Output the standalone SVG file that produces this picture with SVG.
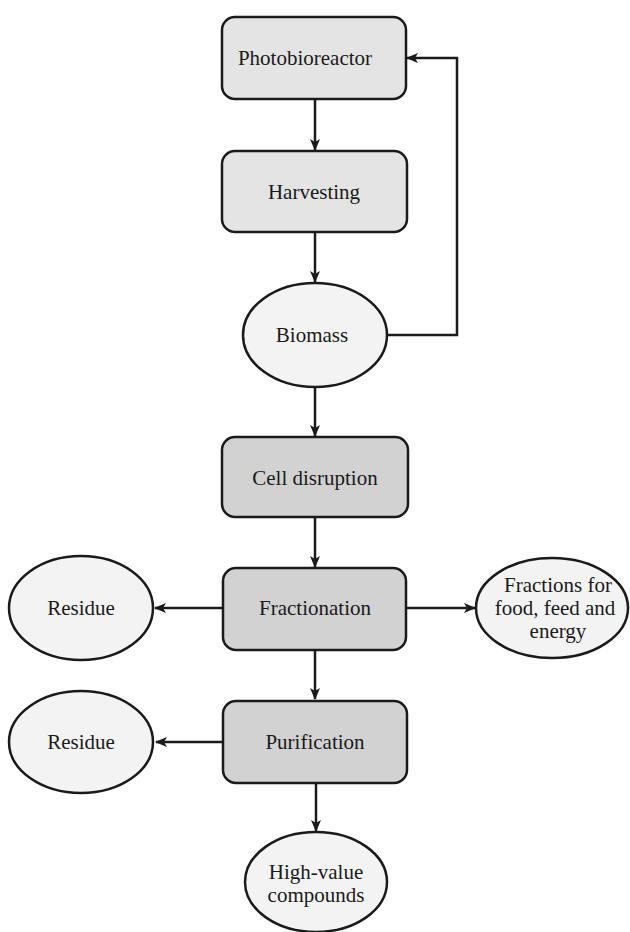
<svg xmlns="http://www.w3.org/2000/svg" width="630" height="932" viewBox="0 0 630 932">
<style>
.box1{fill:#e4e4e4;stroke:#1a1a1a;stroke-width:2.5}
.box2{fill:#d2d2d2;stroke:#1a1a1a;stroke-width:2.5}
.ell{fill:#f3f3f3;stroke:#1a1a1a;stroke-width:2.5}
.t{font-family:'Liberation Serif','DejaVu Serif',serif;font-size:21px;fill:#1a1a1a;text-anchor:middle}
.c{fill:none;stroke:#1a1a1a;stroke-width:2.5}
</style>
<defs>
<marker id="ah" viewBox="0 0 12 10" refX="11" refY="5" markerWidth="12" markerHeight="10" markerUnits="userSpaceOnUse" orient="auto">
<path d="M0,0 L12,5 L0,10 L3,5 z" fill="#1a1a1a"/>
</marker>
</defs>
<g id="connectors">
<path class="c" d="M315,99 L315,150" marker-end="url(#ah)"/>
<path class="c" d="M315,232 L315,282" marker-end="url(#ah)"/>
<path class="c" d="M387,335 L457,335 L457,58 L407,58" marker-end="url(#ah)"/>
<path class="c" d="M315,387 L315,436" marker-end="url(#ah)"/>
<path class="c" d="M315,517 L315,567" marker-end="url(#ah)"/>
<path class="c" d="M222,608 L155,608" marker-end="url(#ah)"/>
<path class="c" d="M406,608 L475,608" marker-end="url(#ah)"/>
<path class="c" d="M315,650 L315,699" marker-end="url(#ah)"/>
<path class="c" d="M222,742 L156,742" marker-end="url(#ah)"/>
<path class="c" d="M316,783 L316,831" marker-end="url(#ah)"/>
</g>
<g id="photobioreactor"><rect class="box1" x="222" y="17" width="184" height="82" rx="13"/><text class="t" x="305" y="65" font-family="Liberation Serif, serif">Photobioreactor</text></g>
<g id="harvesting"><rect class="box1" x="222" y="151" width="185" height="81" rx="13"/><text class="t" x="314" y="199" font-family="Liberation Serif, serif">Harvesting</text></g>
<g id="biomass"><ellipse class="ell" cx="315" cy="335" rx="72" ry="52"/><text class="t" x="312" y="342" font-family="Liberation Serif, serif">Biomass</text></g>
<g id="cell-disruption"><rect class="box2" x="222" y="437" width="186" height="80" rx="13"/><text class="t" x="315" y="485" font-family="Liberation Serif, serif">Cell disruption</text></g>
<g id="fractionation"><rect class="box2" x="223" y="568" width="183" height="82" rx="13"/><text class="t" x="315" y="615" font-family="Liberation Serif, serif">Fractionation</text></g>
<g id="residue1"><ellipse class="ell" cx="81" cy="608" rx="72" ry="52"/><text class="t" x="81" y="615" font-family="Liberation Serif, serif">Residue</text></g>
<g id="fractions"><ellipse class="ell" cx="552" cy="608" rx="76" ry="50"/><text class="t" x="558" y="592" font-family="Liberation Serif, serif">Fractions for</text><text class="t" x="555" y="615" font-family="Liberation Serif, serif">food, feed and</text><text class="t" x="558" y="638" font-family="Liberation Serif, serif">energy</text></g>
<g id="purification"><rect class="box2" x="223" y="701" width="184" height="82" rx="13"/><text class="t" x="315" y="749" font-family="Liberation Serif, serif">Purification</text></g>
<g id="residue2"><ellipse class="ell" cx="81" cy="742" rx="72" ry="51"/><text class="t" x="81" y="749" font-family="Liberation Serif, serif">Residue</text></g>
<g id="high-value"><ellipse class="ell" cx="316" cy="882" rx="71" ry="50"/><text class="t" x="316" y="879" font-family="Liberation Serif, serif">High-value</text><text class="t" x="316" y="902" font-family="Liberation Serif, serif">compounds</text></g>
</svg>
